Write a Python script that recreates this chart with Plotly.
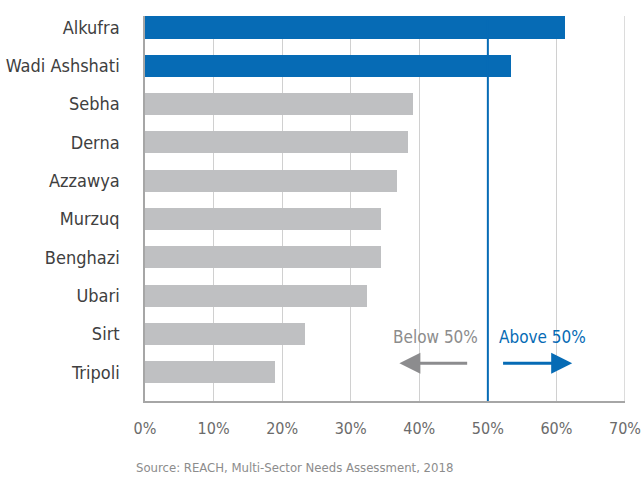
import plotly.graph_objects as go

categories = ["Alkufra", "Wadi Ashshati", "Sebha", "Derna", "Azzawya",
              "Murzuq", "Benghazi", "Ubari", "Sirt", "Tripoli"]
values = [61.2, 53.4, 39.1, 38.4, 36.7, 34.4, 34.4, 32.4, 23.3, 19.0]
threshold = 50
tick_vals = [0, 10, 20, 30, 40, 50, 60, 70]
tick_text = [f"{v}%" for v in tick_vals]

BLUE = "#066bb5"
GREY_BAR = "#bfc0c2"
GREY_TXT = "#8c8c8c"
GRID = "#d0d0d0"
FONT = "DejaVu Sans Condensed, Liberation Sans Narrow, sans-serif"

n = len(categories)
ypos = [n - 1 - i for i in range(n)]
colors = [BLUE if v > threshold else GREY_BAR for v in values]

fig = go.Figure()
fig.add_trace(go.Bar(
    x=values, y=ypos, orientation="h", marker=dict(color=colors, line=dict(width=0)),
    width=0.575, hoverinfo="skip",
))

# right edge gridline (70%)
fig.add_shape(type="line", xref="x", yref="paper", x0=tick_vals[-1], x1=tick_vals[-1],
              y0=0, y1=1, line=dict(color=GRID, width=1.5), layer="below")

fig.add_shape(type="line", xref="x", yref="paper", x0=threshold, x1=threshold,
              y0=0, y1=0.99, line=dict(color=BLUE, width=2))

# arrows
fig.add_annotation(x=37.1, y=0.235, ax=47.2, ay=0.235, xref="x", yref="y",
                   axref="x", ayref="y", text="", showarrow=True,
                   arrowhead=2, arrowsize=1.4, arrowwidth=3, arrowcolor="#8c8c8e")
fig.add_annotation(x=62.3, y=0.235, ax=52.0, ay=0.235, xref="x", yref="y",
                   axref="x", ayref="y", text="", showarrow=True,
                   arrowhead=2, arrowsize=1.4, arrowwidth=3, arrowcolor=BLUE)
fig.add_annotation(x=48.8, y=0.91, xref="x", yref="y", text="Below 50%",
                   showarrow=False, xanchor="right", yanchor="middle",
                   font=dict(family=FONT, size=17, color=GREY_TXT))
fig.add_annotation(x=51.3, y=0.91, xref="x", yref="y", text="Above 50%",
                   showarrow=False, xanchor="left", yanchor="middle",
                   font=dict(family=FONT, size=17, color=BLUE))

fig.add_annotation(x=-0.0235, y=-0.172, xref="paper", yref="paper",
                   text="Source: REACH, Multi-Sector Needs Assessment, 2018",
                   showarrow=False, xanchor="left", yanchor="middle",
                   font=dict(family=FONT, size=13, color="#8c8c8c"))

fig.update_layout(
    width=641, height=477,
    margin=dict(l=145, r=16, t=16, b=76, autoexpand=False),
    plot_bgcolor="white", paper_bgcolor="white",
    showlegend=False,
    font=dict(family=FONT),
    bargap=0,
)
fig.update_xaxes(range=[0, 70], tickvals=tick_vals, ticktext=tick_text,
                 automargin=False, ticklabeloverflow="allow",
                 showgrid=True, gridcolor=GRID, gridwidth=1,
                 showline=True, linecolor="#a6a6a6", linewidth=1.5,
                 zeroline=False, ticks="", ticklabelstandoff=12,
                 tickfont=dict(family=FONT, size=16, color="#6b6b6b"))
fig.update_yaxes(range=[-0.75, 9.3], tickvals=ypos, ticktext=categories,
                 automargin=False,
                 showgrid=False, zeroline=False,
                 showline=True, linecolor="#a6a6a6", linewidth=1.5,
                 ticks="", ticklabelstandoff=20,
                 tickfont=dict(family=FONT, size=18, color="#404040"))

fig.write_html("out.html", config={"displayModeBar": False},
               post_script="document.body.style.margin='0';document.body.style.overflow='hidden';")
